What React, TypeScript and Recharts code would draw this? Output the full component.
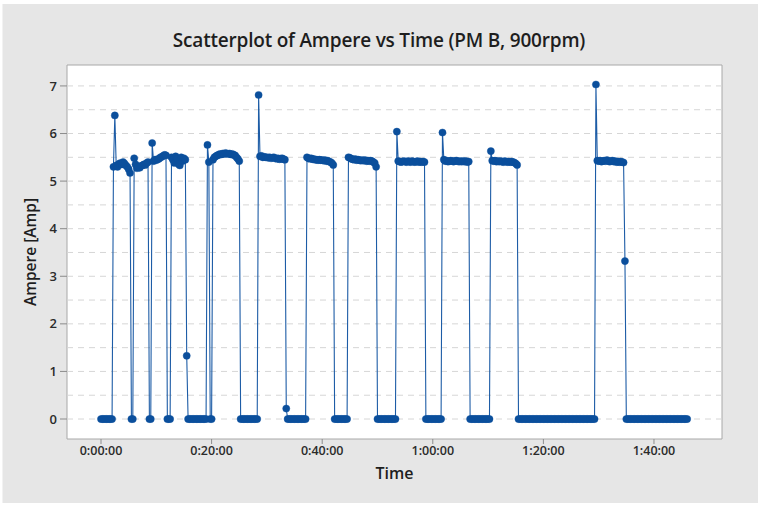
import React from "react";
import { LineChart, Line, XAxis, YAxis, ReferenceLine, ReferenceArea, Label } from "recharts";

// Current logger, one reading every 15 seconds (minutes since start).
const SAMPLE_MINUTES = 0.25;

// Ampere readings, twenty per row = five minutes per row.
const ampereReadings: number[] = [
  /* 0:00 */ 0, 0, 0, 0, 0, 0, 0, 0, 0, 5.3, 6.38, 5.33, 5.3, 5.36, 5.38, 5.35, 5.4, 5.37, 5.33, 5.3,
  /* 0:05 */ 5.25, 5.17, 0, 0, 5.48, 5.35, 5.27, 5.3, 5.28, 5.32, 5.33, 5.35, 5.34, 5.38, 5.4, 0, 0, 5.8, 5.42, 5.45,
  /* 0:10 */ 5.44, 5.46, 5.47, 5.5, 5.51, 5.53, 5.55, 5.54, 0, 0, 0, 5.5, 5.45, 5.38, 5.52, 5.47, 5.36, 5.33, 5.5, 5.42,
  /* 0:15 */ 5.48, 5.45, 1.33, 0, 0, 0, 0, 0, 0, 0, 0, 0, 0, 0, 0, 0, 0, 5.76, 5.4, 0,
  /* 0:20 */ 0, 5.45, 5.5, 5.52, 5.54, 5.55, 5.57, 5.56, 5.58, 5.57, 5.59, 5.58, 5.57, 5.58, 5.56, 5.57, 5.55, 5.54, 5.5, 5.47,
  /* 0:25 */ 5.42, 0, 0, 0, 0, 0, 0, 0, 0, 0, 0, 0, 0, 0, 6.81, 5.52, 5.53, 5.5, 5.51, 5.5,
  /* 0:30 */ 5.5, 5.49, 5.5, 5.48, 5.49, 5.5, 5.48, 5.47, 5.48, 5.46, 5.47, 5.48, 5.46, 5.45, 0.22, 0, 0, 0, 0, 0,
  /* 0:35 */ 0, 0, 0, 0, 0, 0, 0, 0, 0, 5.5, 5.48, 5.47, 5.48, 5.46, 5.46, 5.45, 5.45, 5.44, 5.45, 5.44,
  /* 0:40 */ 5.44, 5.43, 5.44, 5.42, 5.43, 5.41, 5.4, 5.38, 5.34, 0, 0, 0, 0, 0, 0, 0, 0, 0, 0, 5.5,
  /* 0:45 */ 5.49, 5.47, 5.46, 5.45, 5.46, 5.44, 5.45, 5.44, 5.43, 5.44, 5.43, 5.44, 5.42, 5.43, 5.42, 5.43, 5.42, 5.4, 5.38, 5.3,
  /* 0:50 */ 0, 0, 0, 0, 0, 0, 0, 0, 0, 0, 0, 0, 0, 0, 6.04, 5.42, 5.41, 5.4, 5.41, 5.42,
  /* 0:55 */ 5.41, 5.4, 5.42, 5.41, 5.4, 5.42, 5.41, 5.4, 5.41, 5.42, 5.4, 5.41, 5.4, 5.41, 5.4, 0, 0, 0, 0, 0,
  /* 1:00 */ 0, 0, 0, 0, 0, 0, 0, 6.02, 5.45, 5.42, 5.43, 5.41, 5.42, 5.43, 5.42, 5.41, 5.42, 5.43, 5.42, 5.41,
  /* 1:05 */ 5.42, 5.41, 5.42, 5.41, 5.42, 5.4, 5.41, 0, 0, 0, 0, 0, 0, 0, 0, 0, 0, 0, 0, 0,
  /* 1:10 */ 0, 0, 5.63, 5.43, 5.42, 5.43, 5.41, 5.42, 5.41, 5.42, 5.41, 5.4, 5.42, 5.41, 5.4, 5.41, 5.4, 5.41, 5.4, 5.39,
  /* 1:15 */ 5.37, 5.34, 0, 0, 0, 0, 0, 0, 0, 0, 0, 0, 0, 0, 0, 0, 0, 0, 0, 0,
  /* 1:20 */ 0, 0, 0, 0, 0, 0, 0, 0, 0, 0, 0, 0, 0, 0, 0, 0, 0, 0, 0, 0,
  /* 1:25 */ 0, 0, 0, 0, 0, 0, 0, 0, 0, 0, 0, 0, 0, 0, 0, 0, 0, 0, 7.03, 5.43,
  /* 1:30 */ 5.42, 5.43, 5.41, 5.42, 5.43, 5.42, 5.44, 5.42, 5.41, 5.42, 5.43, 5.41, 5.42, 5.4, 5.41, 5.4, 5.41, 5.4, 5.39, 3.32,
  /* 1:35 */ 0, 0, 0, 0, 0, 0, 0, 0, 0, 0, 0, 0, 0, 0, 0, 0, 0, 0, 0, 0,
  /* 1:40 */ 0, 0, 0, 0, 0, 0, 0, 0, 0, 0, 0, 0, 0, 0, 0, 0, 0, 0, 0, 0,
  /* 1:45 */ 0, 0, 0, 0, 0,
];

const timeTicks = [0, 20, 40, 60, 80, 100];
const ampereTicks = [0, 1, 2, 3, 4, 5, 6, 7];
const gridLevels = [0, 0.5, 1, 1.5, 2, 2.5, 3, 3.5, 4, 4.5, 5, 5.5, 6, 6.5, 7];

const X_DOMAIN: [number, number] = [-6.15, 112.3];
const Y_DOMAIN: [number, number] = [-0.42, 7.44];

const data = ampereReadings.map((amp, i) => ({ minute: i * SAMPLE_MINUTES, amp }));

const formatClock = (m: number) => {
  const h = Math.floor(m / 60);
  const mm = Math.round(m % 60);
  return `${h}:${String(mm).padStart(2, "0")}:00`;
};

const FONT = "'Open Sans', 'Noto Sans', sans-serif";
const DOT_BLUE = "#0b4f9c";
const LINE_BLUE = "#1d5ca6";

export default function App() {
  return (
    <div style={{ position: "absolute", left: 0, top: 0, width: 758, height: 505, background: "#ffffff" }}>
      <div
        style={{
          position: "absolute",
          left: 2,
          top: 4,
          width: 755,
          height: 499,
          background: "#e6e6e6",
          borderLeft: "1px solid #f2f2f2",
        }}
      />
      <div
        style={{
          position: "absolute",
          left: 0,
          top: 27,
          width: 758,
          textAlign: "center",
          fontFamily: FONT,
          fontSize: 19,
          lineHeight: "26px",
          fontWeight: 600,
          color: "#1e1e1e",
          letterSpacing: -0.2,
        }}
      >
        Scatterplot of Ampere vs Time (PM B, 900rpm)
      </div>
      <div style={{ position: "absolute", left: 0, top: 0 }}>
        <LineChart
          width={758}
          height={505}
          data={data}
          margin={{ top: 65, right: 36, bottom: 36, left: 7 }}
        >
          <ReferenceArea
            x1={X_DOMAIN[0]}
            x2={X_DOMAIN[1]}
            y1={Y_DOMAIN[0]}
            y2={Y_DOMAIN[1]}
            fill="#ffffff"
            fillOpacity={1}
            stroke="#a8a8a8"
            strokeWidth={1}
            ifOverflow="visible"
          />
          {gridLevels.map((v) => (
            <ReferenceLine key={v} y={v} stroke="#d6d6d6" strokeDasharray="6 5" strokeWidth={1} />
          ))}
          <XAxis
            dataKey="minute"
            type="number"
            domain={X_DOMAIN}
            ticks={timeTicks}
            tickFormatter={formatClock}
            allowDataOverflow
            height={30}
            axisLine={false}
            tickLine={{ stroke: "#8c8c8c" }}
            tickSize={5}
            tickMargin={2}
            tick={{ fill: "#2b2b2b", fontSize: 12.5, fontFamily: FONT, fontWeight: 600 }}
          >
            <Label
              value="Time"
              position="bottom"
              offset={-1}
              style={{ fill: "#1e1e1e", fontSize: 16, fontFamily: FONT, fontWeight: 600 }}
            />
          </XAxis>
          <YAxis
            type="number"
            domain={Y_DOMAIN}
            ticks={ampereTicks}
            allowDataOverflow
            width={60}
            axisLine={false}
            tickLine={{ stroke: "#8c8c8c" }}
            tickSize={7}
            tickMargin={3}
            tick={{ fill: "#2b2b2b", fontSize: 13, fontFamily: FONT, fontWeight: 600 }}
          >
            <Label
              value="Ampere [Amp]"
              angle={-90}
              position="insideLeft"
              offset={23}
              style={{ fill: "#1e1e1e", fontSize: 15.5, fontFamily: FONT, fontWeight: 600, textAnchor: "middle" }}
            />
          </YAxis>
          <Line
            type="linear"
            dataKey="amp"
            stroke={LINE_BLUE}
            strokeWidth={1.1}
            dot={{ r: 3.6, fill: DOT_BLUE, stroke: DOT_BLUE, strokeWidth: 0.4 }}
            activeDot={false}
            isAnimationActive={false}
          />
        </LineChart>
      </div>
    </div>
  );
}
